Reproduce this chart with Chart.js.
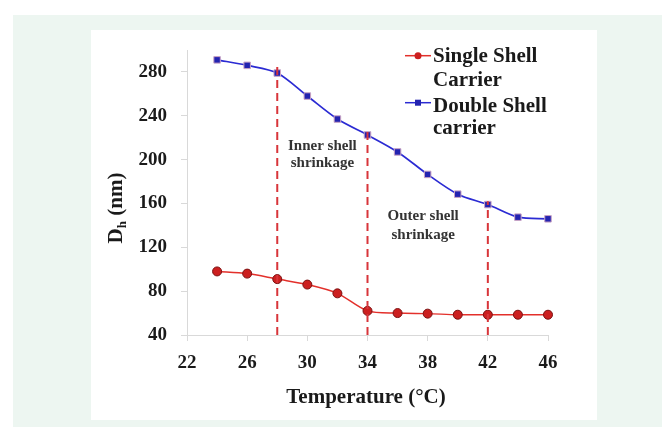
<!DOCTYPE html>
<html>
<head>
<meta charset="utf-8">
<script src="https://cdn.jsdelivr.net/npm/chart.js@4.4.1/dist/chart.umd.min.js"></script>
<style>
    body { margin: 0; background: #ffffff; width: 662px; height: 427px; position: relative; overflow: hidden; }
    #outer { position: absolute; left: 13px; top: 15px; width: 649px; height: 412px; background: #edf6f1; }
    #panel { position: absolute; left: 91px; top: 30px; width: 506px; height: 390px; background: #ffffff; }
</style>
</head>
<body>
<div id="outer"></div>
<div id="panel"><canvas id="shellChart" width="506" height="390"></canvas></div>
<script>
// temperatures (deg C)
const temps = [24, 26, 28, 30, 32, 34, 36, 38, 40, 42, 44, 46];
// hydrodynamic diameter (nm)
const singleShell = [98, 96, 91, 86, 78, 62, 60, 59.5, 58.5, 58.5, 58.5, 58.5];
const doubleShell = [291, 286, 279, 258, 237, 222.5, 207, 186.5, 168.5, 159, 147.5, 146];

// transition markers (dashed lines) and labels
const transitionTemps = [28, 34, 42];
const transitionTops = [287, 228, 162];
const stageLabels = [
    { x: 31.0, lines: ["Inner shell", "shrinkage"], y: [209, 193.5] },
    { x: 37.7, lines: ["Outer shell", "shrinkage"], y: [144.5, 127.5] }
];

const xTicks = [22, 26, 30, 34, 38, 42, 46];
const yTicks = [40, 80, 120, 160, 200, 240, 280];

const SERIF = "'Liberation Serif', 'Times New Roman', serif";
const RED = '#e3302b';
const BLUE = '#2b2bd3';

// dashed vertical lines, one dataset each
const transitionSets = transitionTemps.map((t, i) => ({
    data: [{ x: t, y: 40 }, { x: t, y: transitionTops[i] }],
    borderColor: '#d8353a',
    borderWidth: 2,
    borderDash: [8, 5],
    pointRadius: 0,
    tension: 0,
    fill: false
}));

// drawing text labels, legend and axis titles
const extrasPlugin = {
    id: 'extras',
    afterDatasetsDraw(chart) {
        const { ctx, chartArea, scales } = chart;
        ctx.save();

        // stage labels
        ctx.fillStyle = '#333333';
        ctx.font = `bold 15px ${SERIF}`;
        ctx.textAlign = 'center';
        ctx.textBaseline = 'alphabetic';
        stageLabels.forEach(lbl => {
            lbl.lines.forEach((line, i) => {
                ctx.fillText(line, scales.x.getPixelForValue(lbl.x), scales.y.getPixelForValue(lbl.y[i]));
            });
        });

        // legend
        const lx = chartArea.right - 143;
        const rows = [
            { color: RED, fill: '#cc1f1f', shape: 'circle', y: 25.7, text: ["Single Shell", "Carrier"], base: [32, 55.5] },
            { color: BLUE, fill: '#2323b0', shape: 'square', y: 72.7, text: ["Double Shell", "carrier"], base: [81.7, 104] }
        ];
        rows.forEach(r => {
            ctx.strokeStyle = r.color;
            ctx.lineWidth = 1.5;
            ctx.beginPath();
            ctx.moveTo(lx, r.y);
            ctx.lineTo(lx + 26, r.y);
            ctx.stroke();
            ctx.fillStyle = r.fill;
            if (r.shape === 'circle') {
                ctx.beginPath();
                ctx.arc(lx + 13, r.y, 3.5, 0, Math.PI * 2);
                ctx.fill();
            } else {
                ctx.fillRect(lx + 10, r.y - 3, 6, 6);
            }
            ctx.fillStyle = '#1a1a1a';
            ctx.font = `bold 21px ${SERIF}`;
            ctx.textAlign = 'left';
            r.text.forEach((t, i) => ctx.fillText(t, lx + 28, r.base[i]));
        });

        // x axis title
        ctx.fillStyle = '#1a1a1a';
        ctx.font = `bold 21px ${SERIF}`;
        ctx.textAlign = 'center';
        ctx.fillText('Temperature (\u00B0C)', 275, 373);

        // y axis title with subscript
        ctx.translate(31, 178);
        ctx.rotate(-Math.PI / 2);
        const big = `bold 21px ${SERIF}`;
        const small = `bold 13px ${SERIF}`;
        ctx.font = big;
        const wD = ctx.measureText('D').width;
        const wRest = ctx.measureText(' (nm)').width;
        ctx.font = small;
        const wH = ctx.measureText('h').width;
        let px = -(wD + wH + wRest) / 2;
        ctx.textAlign = 'left';
        ctx.font = big;
        ctx.fillText('D', px, 0);
        px += wD;
        ctx.font = small;
        ctx.fillText('h', px, 4);
        px += wH;
        ctx.font = big;
        ctx.fillText(' (nm)', px, 0);

        ctx.restore();
    }
};

const ctx = document.getElementById('shellChart').getContext('2d');
const shellChart = new Chart(ctx, {
    type: 'line',
    data: {
        datasets: [
            ...transitionSets,
            {
                label: 'Single Shell Carrier',
                data: temps.map((t, i) => ({ x: t, y: singleShell[i] })),
                borderColor: RED,
                borderWidth: 1.5,
                backgroundColor: '#cc1f1f',
                pointStyle: 'circle',
                pointRadius: 4.5,
                pointBorderColor: '#7a1010',
                pointBorderWidth: 1,
                tension: 0.3,
                fill: false
            },
            {
                label: 'Double Shell carrier',
                data: temps.map((t, i) => ({ x: t, y: doubleShell[i] })),
                borderColor: BLUE,
                borderWidth: 1.7,
                backgroundColor: '#2323b0',
                pointStyle: 'rect',
                pointRadius: 4.6,
                pointBorderColor: '#c9a3c4',
                pointBorderWidth: 1,
                tension: 0.3,
                fill: false
            }
        ]
    },
    options: {
        responsive: false,
        animation: false,
        clip: false,
        layout: { padding: { left: 0, right: 49, top: 20, bottom: 0 } },
        plugins: {
            legend: { display: false },
            tooltip: { enabled: false }
        },
        scales: {
            x: {
                type: 'linear',
                min: 22,
                max: 46,
                afterFit: scale => {
                    scale.height = 85;
                    scale.paddingLeft = 0;
                    scale.paddingRight = 0;
                },
                afterBuildTicks: scale => { scale.ticks = xTicks.map(v => ({ value: v })); },
                grid: { drawOnChartArea: false, color: '#d9d9d9', tickLength: 6 },
                border: { color: '#d9d9d9' },
                ticks: { color: '#1a1a1a', padding: 11, font: { family: SERIF, size: 19, weight: 'bold' } }
            },
            y: {
                min: 40,
                max: 300,
                afterFit: scale => {
                    scale.width = 96;
                    scale.paddingTop = 0;
                    scale.paddingBottom = 0;
                },
                afterBuildTicks: scale => { scale.ticks = yTicks.map(v => ({ value: v })); },
                grid: { drawOnChartArea: false, color: '#d9d9d9', tickLength: 6 },
                border: { color: '#d9d9d9' },
                ticks: { color: '#1a1a1a', padding: 14, font: { family: SERIF, size: 19, weight: 'bold' } }
            }
        }
    },
    plugins: [extrasPlugin]
});
</script>
</body>
</html>
